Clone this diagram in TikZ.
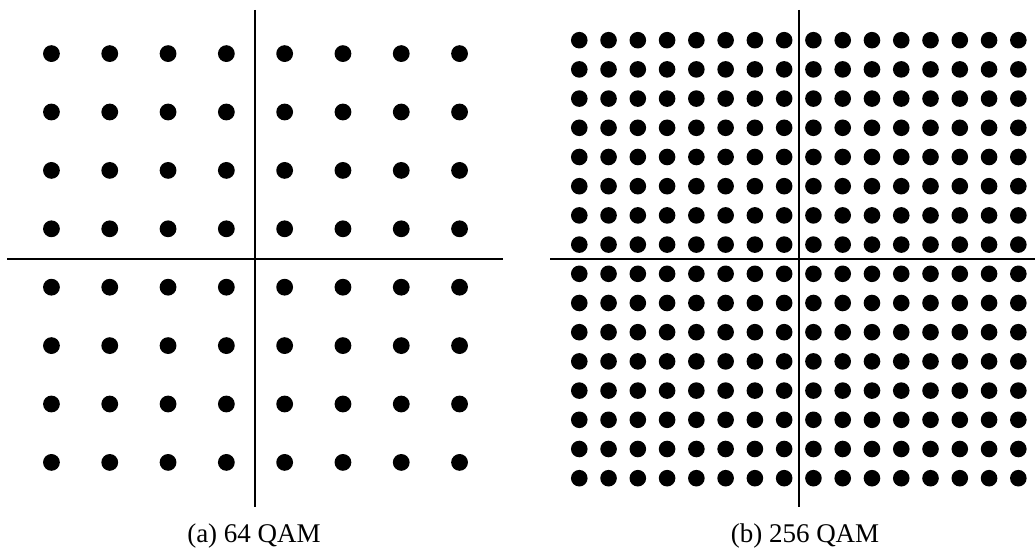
\documentclass[tikz,border=0pt]{standalone}
\usepackage{fontspec}
\setmainfont{Liberation Serif}
\begin{document}
\begin{tikzpicture}[x=1pt,y=-1pt,
  axis/.style={line width=1.6pt,black},
  symbol/.style={fill=black},
  caption/.style={anchor=base,inner sep=0pt,font=\fontsize{27}{30}\selectfont}]
\useasboundingbox (0,0) rectangle (1035,548);

% ---- 64-QAM constellation ----
\coordinate (aT) at (255,10);
\coordinate (aB) at (255,507);
\coordinate (aL) at (7,259);
\coordinate (aR) at (503,259);
\draw[axis] (aT) -- (aB);
\draw[axis] (aL) -- (aR);
\foreach \i in {0,...,7}
  \foreach \j in {0,...,7}
    \fill[symbol] ({255.5+(\i-3.5)*58.3},{258+(\j-3.5)*58.4}) circle (8.4);
\node[caption] (capa) at (254,542) {(a) 64 QAM};

% ---- 256-QAM constellation ----
\coordinate (bT) at (799,10);
\coordinate (bB) at (799,507);
\coordinate (bL) at (550,259);
\coordinate (bR) at (1035,259);
\draw[axis] (bT) -- (bB);
\draw[axis] (bL) -- (bR);
\foreach \i in {0,...,15}
  \foreach \j in {0,...,15}
    \fill[symbol] ({798.8+(\i-7.5)*29.27},{259.2+(\j-7.5)*29.2}) circle (8.3);
\node[caption] (capb) at (805,542) {(b) 256 QAM};
\end{tikzpicture}
\end{document}
